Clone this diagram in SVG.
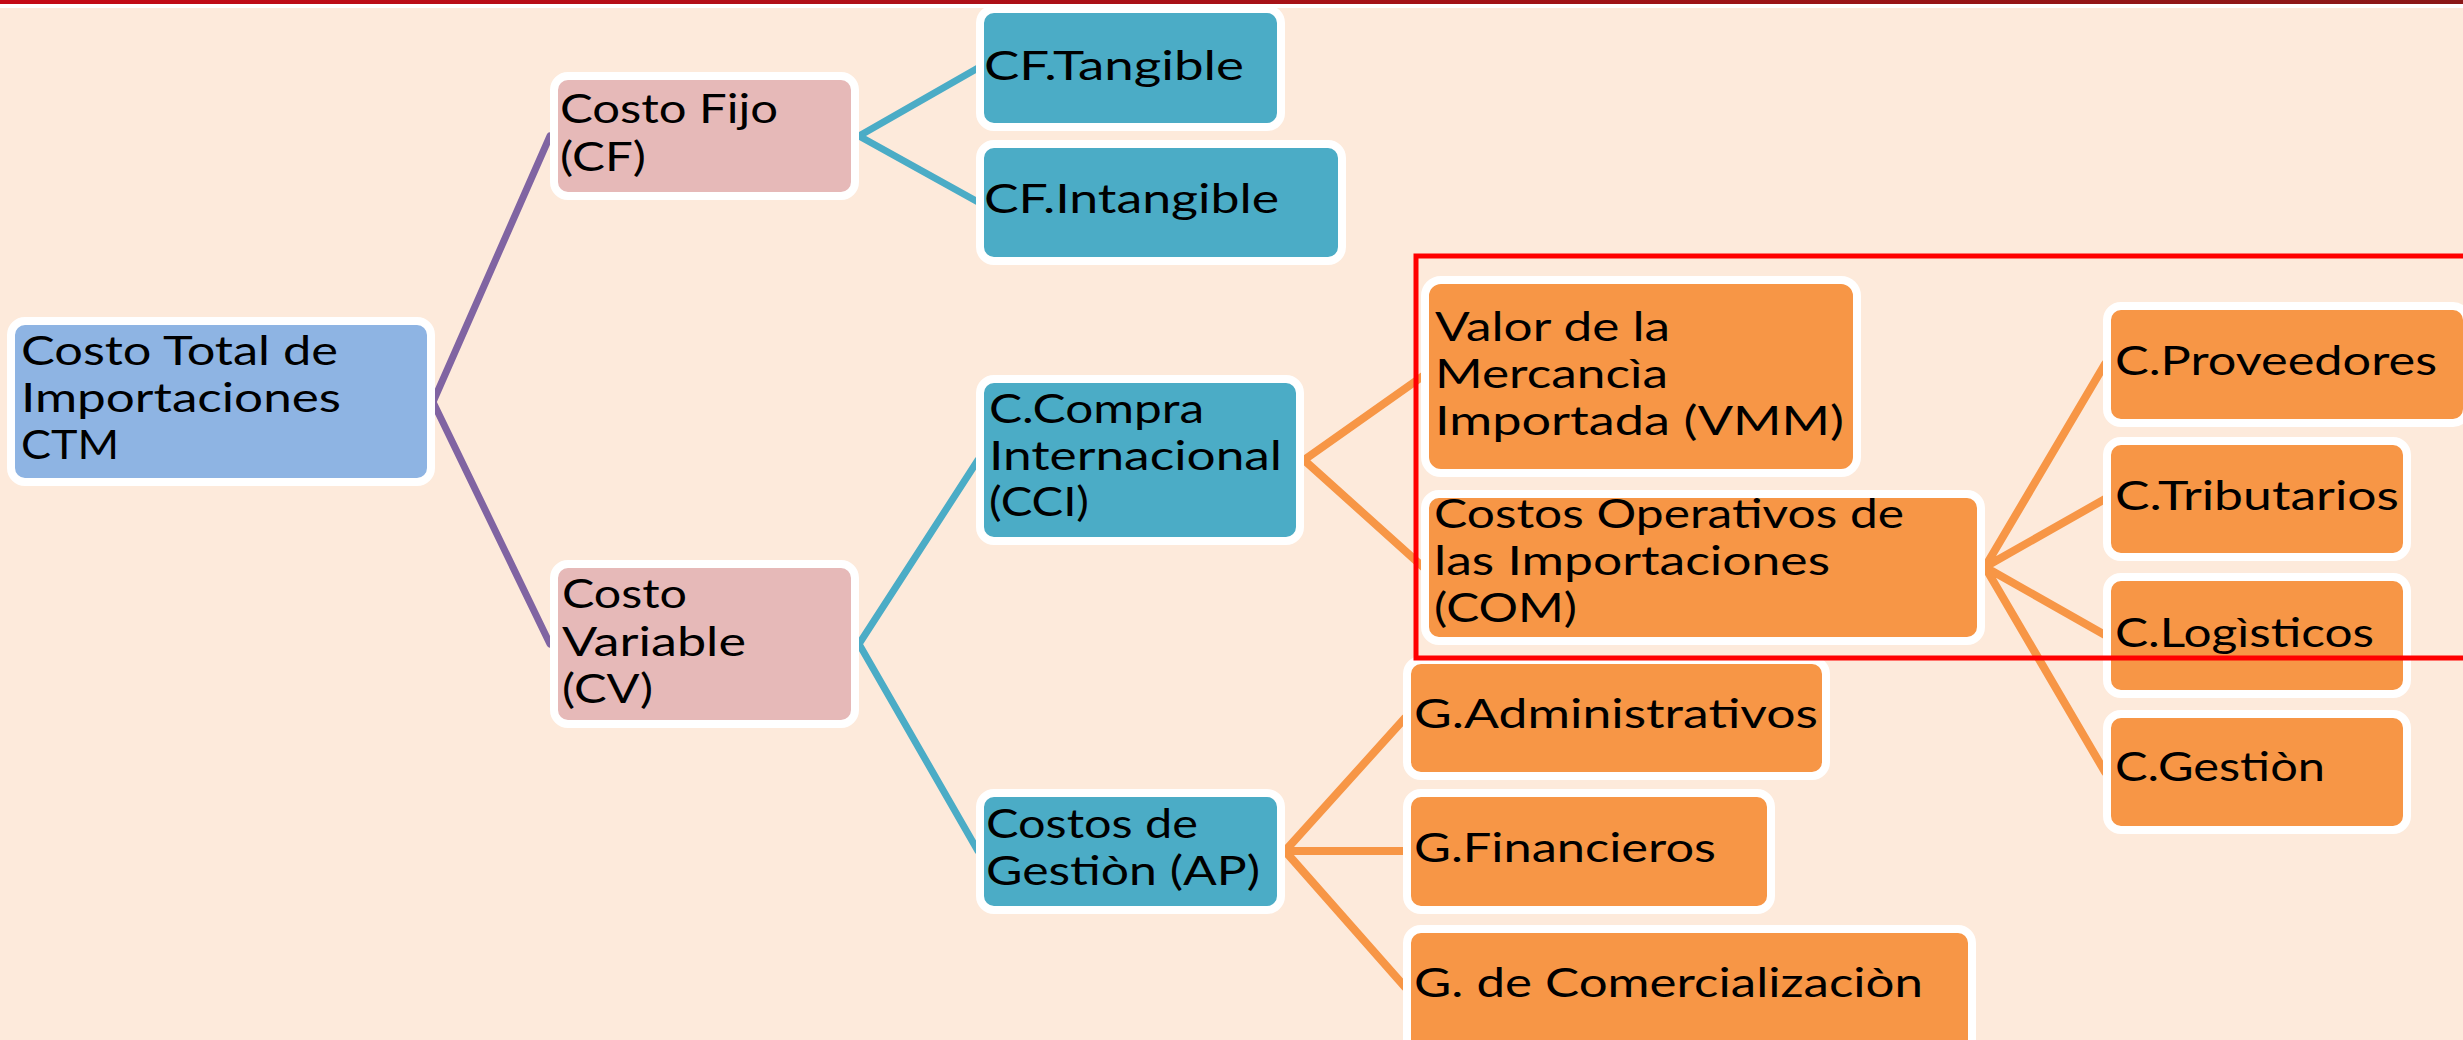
<svg xmlns="http://www.w3.org/2000/svg" width="2463" height="1040" viewBox="0 0 2463 1040">
<defs>
<linearGradient id="bar" x1="0" y1="0" x2="1" y2="0">
<stop offset="0" stop-color="#C40A16"/>
<stop offset="1" stop-color="#8A1818"/>
</linearGradient>
</defs>
<style>
.n{stroke:#FFFFFF;stroke-width:8}
.blue{fill:#8EB4E3}
.pink{fill:#E6B9B8}
.cyan{fill:#4BACC6}
.orange{fill:#F79646}
text{font-family:Lato,"Open Sans","Liberation Sans",sans-serif;font-size:40px;fill:#000000}
.c{fill:none;stroke-width:7;stroke-linecap:round}
.cp{stroke:#8064A2}
.cc{stroke:#4BACC6}
.co{stroke:#F79646;stroke-width:8}
</style>
<rect x="0" y="0" width="2463" height="1040" fill="#FDEADB"/>
<rect x="0" y="0" width="2463" height="4" fill="url(#bar)"/>
<rect x="0" y="4" width="2463" height="4" fill="#FFFFFF"/>

<g id="connectors">
<path class="c cp" d="M433,402 L550,136 M433,402 L550,644"/>
<path class="c cc" d="M859,136 L978,68 M859,136 L978,202"/>
<path class="c cc" d="M859,644 L978,460 M859,644 L978,851"/>
<path class="c co" d="M1304,460 L1423,376 M1304,460 L1423,567"/>
<path class="c co" d="M1285,851 L1405,718 M1285,851 L1405,851 M1285,851 L1405,987"/>
<path class="c co" d="M1985,567 L2105,364 M1985,567 L2105,499 M1985,567 L2105,635 M1985,567 L2105,772"/>
</g>

<g id="ctm">
<rect class="n blue" x="11" y="321" width="420" height="161" rx="14"/>
<text x="21" y="365" textLength="317" lengthAdjust="spacingAndGlyphs">Costo Total de</text>
<text x="21" y="412" textLength="320" lengthAdjust="spacingAndGlyphs">Importaciones</text>
<text x="21" y="459" textLength="98" lengthAdjust="spacingAndGlyphs">CTM</text>
</g>
<g id="cf">
<rect class="n pink" x="554" y="76" width="301" height="120" rx="14"/>
<text x="560" y="123" textLength="218" lengthAdjust="spacingAndGlyphs">Costo Fijo</text>
<text x="560" y="171" textLength="86" lengthAdjust="spacingAndGlyphs">(CF)</text>
</g>
<g id="cv">
<rect class="n pink" x="554" y="564" width="301" height="160" rx="14"/>
<text x="562" y="608" textLength="125" lengthAdjust="spacingAndGlyphs">Costo</text>
<text x="562" y="656" textLength="184" lengthAdjust="spacingAndGlyphs">Variable</text>
<text x="562" y="703" textLength="91" lengthAdjust="spacingAndGlyphs">(CV)</text>
</g>
<g id="cf-tangible">
<rect class="n cyan" x="980" y="9" width="301" height="118" rx="14"/>
<text x="984" y="80" textLength="260" lengthAdjust="spacingAndGlyphs">CF.Tangible</text>
</g>
<g id="cf-intangible">
<rect class="n cyan" x="980" y="144" width="362" height="117" rx="14"/>
<text x="984" y="213" textLength="295" lengthAdjust="spacingAndGlyphs">CF.Intangible</text>
</g>
<g id="cci">
<rect class="n cyan" x="980" y="379" width="320" height="162" rx="14"/>
<text x="989" y="423" textLength="215" lengthAdjust="spacingAndGlyphs">C.Compra</text>
<text x="989" y="470" textLength="293" lengthAdjust="spacingAndGlyphs">Internacional</text>
<text x="989" y="516" textLength="100" lengthAdjust="spacingAndGlyphs">(CCI)</text>
</g>
<g id="ap">
<rect class="n cyan" x="980" y="793" width="301" height="117" rx="14"/>
<text x="986" y="838" textLength="212" lengthAdjust="spacingAndGlyphs">Costos de</text>
<text x="986" y="885" textLength="274" lengthAdjust="spacingAndGlyphs">Gestiòn (AP)</text>
</g>
<g id="vmm">
<rect class="n orange" x="1425" y="280" width="432" height="193" rx="16"/>
<text x="1435" y="341" textLength="235" lengthAdjust="spacingAndGlyphs">Valor de la</text>
<text x="1435" y="388" textLength="233" lengthAdjust="spacingAndGlyphs">Mercancìa</text>
<text x="1435" y="435" textLength="409" lengthAdjust="spacingAndGlyphs">Importada (VMM)</text>
</g>
<g id="com">
<rect class="n orange" x="1425" y="494" width="556" height="147" rx="14"/>
<text x="1434" y="528" textLength="470" lengthAdjust="spacingAndGlyphs">Costos Operativos de</text>
<text x="1434" y="575" textLength="396" lengthAdjust="spacingAndGlyphs">las Importaciones</text>
<text x="1434" y="622" textLength="143" lengthAdjust="spacingAndGlyphs">(COM)</text>
</g>
<g id="g-admin">
<rect class="n orange" x="1407" y="660" width="419" height="116" rx="14"/>
<text x="1414" y="728" textLength="404" lengthAdjust="spacingAndGlyphs">G.Administrativos</text>
</g>
<g id="g-fin">
<rect class="n orange" x="1407" y="793" width="364" height="117" rx="14"/>
<text x="1414" y="862" textLength="302" lengthAdjust="spacingAndGlyphs">G.Financieros</text>
</g>
<g id="g-com">
<rect class="n orange" x="1407" y="929" width="565" height="130" rx="14"/>
<text x="1414" y="997" textLength="509" lengthAdjust="spacingAndGlyphs">G. de Comercializaciòn</text>
</g>
<g id="c-prov">
<rect class="n orange" x="2107" y="306" width="360" height="117" rx="14"/>
<text x="2115" y="375" textLength="322" lengthAdjust="spacingAndGlyphs">C.Proveedores</text>
</g>
<g id="c-trib">
<rect class="n orange" x="2107" y="441" width="300" height="116" rx="14"/>
<text x="2115" y="510" textLength="284" lengthAdjust="spacingAndGlyphs">C.Tributarios</text>
</g>
<g id="c-log">
<rect class="n orange" x="2107" y="577" width="300" height="117" rx="14"/>
<text x="2115" y="647" textLength="259" lengthAdjust="spacingAndGlyphs">C.Logìsticos</text>
</g>
<g id="c-gest">
<rect class="n orange" x="2107" y="714" width="300" height="116" rx="14"/>
<text x="2115" y="781" textLength="210" lengthAdjust="spacingAndGlyphs">C.Gestiòn</text>
</g>

<rect x="1416" y="256" width="1100" height="402" fill="none" stroke="#FF0000" stroke-width="5"/>
</svg>
